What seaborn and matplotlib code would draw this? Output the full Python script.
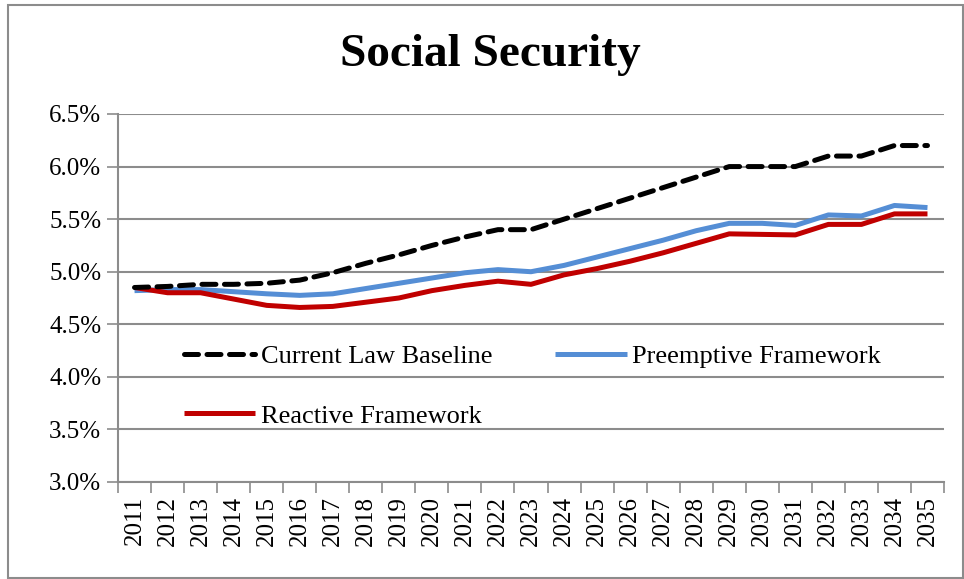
import matplotlib
matplotlib.use("Agg")
import matplotlib.pyplot as plt
import matplotlib.patches as mpatches
from matplotlib.ticker import FixedLocator, FuncFormatter
import seaborn as sns
import pandas as pd

years = [str(y) for y in range(2011, 2036)]
baseline = [4.85, 4.86, 4.88, 4.88, 4.89, 4.92, 4.99, 5.08, 5.16, 5.25, 5.33, 5.40, 5.40,
            5.50, 5.60, 5.70, 5.80, 5.90, 6.00, 6.00, 6.00, 6.10, 6.10, 6.20, 6.20]
preemptive = [4.82, 4.83, 4.83, 4.81, 4.79, 4.775, 4.79, 4.84, 4.89, 4.94, 4.99, 5.02, 5.00,
              5.06, 5.14, 5.22, 5.30, 5.39, 5.46, 5.46, 5.44, 5.54, 5.53, 5.63, 5.61]
reactive = [4.85, 4.80, 4.80, 4.74, 4.68, 4.66, 4.67, 4.71, 4.75, 4.82, 4.87, 4.91, 4.88,
            4.97, 5.03, 5.10, 5.18, 5.27, 5.36, 5.355, 5.35, 5.45, 5.45, 5.55, 5.55]
series_names = ["Current Law Baseline", "Preemptive Framework", "Reactive Framework"]
y_ticks = [3.0, 3.5, 4.0, 4.5, 5.0, 5.5, 6.0, 6.5]

sns.set_theme(style="white")
plt.rcParams['font.family'] = ['Liberation Serif', 'DejaVu Serif']
plt.rcParams['text.color'] = 'black'
plt.rcParams['xtick.color'] = 'black'
plt.rcParams['ytick.color'] = 'black'

fig = plt.figure(figsize=(9.64, 5.79), dpi=100)
ax = fig.add_axes([118/964, 1 - 482/579, (944-118)/964, (482-114)/579])

idx = list(range(len(years)))
df = pd.DataFrame({"idx": idx, "baseline": baseline, "preemptive": preemptive, "reactive": reactive})

for yv in y_ticks:
    ax.axhline(yv, color="#8c8c8c", linewidth=1.5, zorder=1)

sns.lineplot(data=df, x="idx", y="preemptive", ax=ax, color="#558ED5", linewidth=3.6,
             label=series_names[1], zorder=3)
sns.lineplot(data=df, x="idx", y="reactive", ax=ax, color="#C00000", linewidth=3.6,
             label=series_names[2], zorder=4)
sns.lineplot(data=df, x="idx", y="baseline", ax=ax, color="black", linewidth=3.6,
             label=series_names[0], zorder=5)
lines = ax.get_lines()
bl = [l for l in lines if l.get_label() == series_names[0]][0]
bl.set_dashes([2.8, 1.7])
bl.set_dash_capstyle("round")
for l in lines:
    l.set_solid_capstyle("butt")

ax.set_xlim(-0.5, len(years) - 0.5)
ax.set_ylim(3.0, 6.5)
ax.set_yticks(y_ticks)
ax.yaxis.set_major_formatter(FuncFormatter(lambda v, p: f"{v:.1f}%"))
ax.set_xticks(idx)
ax.set_xticklabels(years, rotation=90)
ax.xaxis.set_minor_locator(FixedLocator([i - 0.5 for i in range(len(years) + 1)]))
ax.tick_params(axis="x", which="major", length=0, pad=10, labelsize=18, labelcolor="black")
ax.tick_params(axis="x", which="minor", length=8, width=1.2, color="#8c8c8c", direction="out", bottom=True)
ax.tick_params(axis="y", which="major", length=8, width=1.2, color="#8c8c8c", direction="out",
               left=True, labelsize=18, pad=4, labelcolor="black")
ax.set_xlabel("")
ax.set_ylabel("")
for s in ["top", "right"]:
    ax.spines[s].set_visible(False)
for s in ["left", "bottom"]:
    ax.spines[s].set_color("#8c8c8c")
    ax.spines[s].set_linewidth(1.5)
ax.set_facecolor("white")

handles, labels = ax.get_legend_handles_labels()
order = [labels.index(n) for n in [series_names[0], series_names[2], series_names[1]]]
leg = ax.legend([handles[i] for i in order], [labels[i] for i in order], ncol=2,
                frameon=False, loc="upper left",
                bbox_to_anchor=(184/964, 1 - 345/579), bbox_transform=fig.transFigure,
                fontsize=19, handlelength=2.7, handletextpad=0.2, labelspacing=1.35,
                columnspacing=2.4, borderpad=0, borderaxespad=0)
for lh in leg.get_lines():
    lh.set_linewidth(3.6)
for t in leg.get_texts():
    t.set_color("black")

fig.text(490/964, 1 - 55/579, "Social Security", ha="center", va="center",
         fontsize=34, fontweight="bold", color="black")

fig.patches.append(mpatches.Rectangle((8/964, 1/579), 955/964, 1 - 6/579, transform=fig.transFigure,
                                      fill=False, edgecolor="#8c8c8c", linewidth=1.5))

fig.savefig("out.png", dpi=100, facecolor="white")
